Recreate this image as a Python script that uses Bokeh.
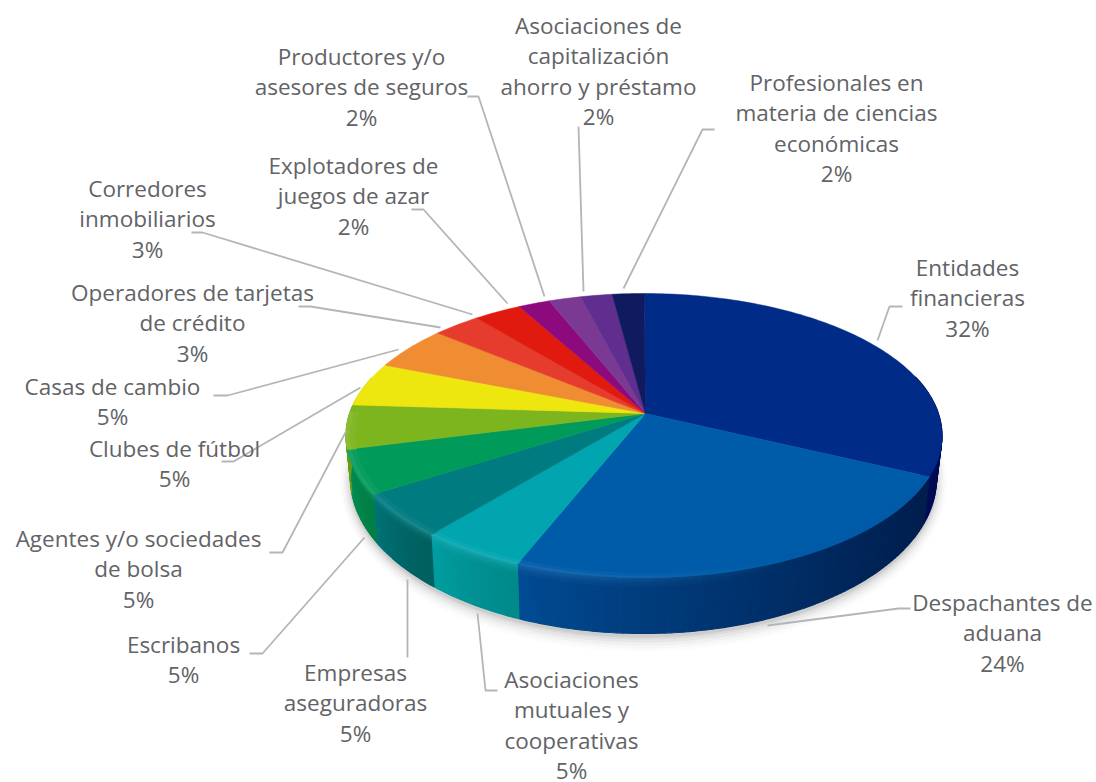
import numpy as np
from bokeh.plotting import figure
from bokeh.core.properties import value
from bokeh.embed import file_html
from bokeh.resources import INLINE

categories = ["Entidades financieras", "Despachantes de aduana", "Asociaciones mutuales y cooperativas",
              "Empresas aseguradoras", "Escribanos", "Agentes y/o sociedades de bolsa", "Clubes de fútbol",
              "Casas de cambio", "Operadores de tarjetas de crédito", "Corredores inmobiliarios",
              "Explotadores de juegos de azar", "Productores y/o asesores de seguros",
              "Asociaciones de capitalización ahorro y préstamo", "Profesionales en materia de ciencias económicas"]
shares = [32, 24, 5, 5, 5, 5, 5, 5, 3, 3, 2, 2, 2, 2]
label_lines = [["Entidades", "financieras"], ["Despachantes de", "aduana"],
               ["Asociaciones", "mutuales y", "cooperativas"], ["Empresas", "aseguradoras"], ["Escribanos"],
               ["Agentes y/o sociedades", "de bolsa"], ["Clubes de fútbol"], ["Casas de cambio"],
               ["Operadores de tarjetas", "de crédito"], ["Corredores", "inmobiliarios"],
               ["Explotadores de", "juegos de azar"], ["Productores y/o", "asesores de seguros"],
               ["Asociaciones de", "capitalización", "ahorro y préstamo"],
               ["Profesionales en", "materia de ciencias", "económicas"]]

top_colors = ["#002B87", "#005BA8", "#00A5B0", "#007B80", "#009A5A", "#7DB51E", "#EDE60F",
              "#F08C32", "#E63C2D", "#E01A0F", "#8C0A7D", "#7A3A94", "#5F2E8F", "#0F1A5F"]
side_right = ["#000845", "#001E4E", "#008A8C", "#00605F", "#007F45", "#6A9A18", "#C9C40D",
              "#CC772A", "#C33326", "#BE160D", "#77086A", "#68317E", "#51277A", "#0D1651"]
side_left = ["#000C55", "#004C94", "#009FA2", "#007377", "#009055", "#6A9A18", "#C9C40D",
             "#CC772A", "#C33326", "#BE160D", "#77086A", "#68317E", "#51277A", "#0D1651"]

# label layout: centre x, first line centre y
label_pos = [(967, 267), (1002, 602), (571, 679), (355, 672), (183, 644), (138, 538), (174, 448),
             (112, 386), (192, 292), (147, 188), (353, 165), (361, 56), (598, 25), (836, 82)]
LINE_H = 30.4
leaders = [
    [(877, 340), (889, 306), (902, 306)], [(767, 625), (898, 608), (910, 608)],
    [(477, 613), (485, 690), (497, 690)], [(407, 579), (407, 657)],
    [(364, 537), (262, 653), (249, 653)], [(346, 430), (282, 552), (269, 552)],
    [(360, 387), (233, 461), (221, 461)], [(398, 349), (227, 395), (213, 395)],
    [(440, 327), (310, 306), (298, 306)], [(472, 314), (202, 232), (191, 232)],
    [(507, 303), (423, 209), (411, 209)], [(544, 296), (478, 96), (467, 96)],
    [(583, 291), (578, 126)], [(623, 288), (702, 129), (714, 129)],
]

# pie geometry in page pixels
AX, AY = 645.0, 413.0            # projected centre of the disc
CX, CY, RX, RY = 643.5, 435.0, 298.0, 142.0   # rim of the top face
BCX, BCY, BRX, BRY = 643.0, 478.0, 293.0, 155.0  # rim of the bottom face
D = (CY - AY) / RY


def rim(theta):
    X, Y = np.sin(theta), np.cos(theta)
    k = 1 + D * Y
    return X * np.sqrt(1 - D * D) / k, -(Y + D) / k


def rgb(h):
    return np.array([int(h[i:i + 2], 16) for i in (1, 3, 5)], float)


def hexc(c):
    c = np.clip(np.round(c), 0, 255).astype(int)
    return "#%02x%02x%02x" % tuple(c)


W, H = 1096, 782
p = figure(width=W, height=H, x_range=(0, W), y_range=(H, 0), toolbar_location=None,
           output_backend="svg", min_border=0, outline_line_color=None, background_fill_color="white")
p.axis.visible = False
p.grid.visible = False

# soft shadow under the disc
t = np.linspace(0, 2 * np.pi, 200)
for g, a in [(15, .02), (12, .03), (9, .045), (6, .06), (3, .08), (1, .1)]:
    p.patch(BCX + (BRX + g * .7) * np.cos(t), BCY + 3 + (BRY + g) * np.sin(t),
            fill_color="#555555", fill_alpha=a, line_color=None)

fractions = np.cumsum([0] + shares) / sum(shares)
STEP = np.radians(1.0)

xs, ys, cols = [], [], []
bands = [(0, .035, .55), (.035, .075, .4), (.075, .12, .24), (.12, .18, .11), (.18, 1, 0)]
for i in range(len(shares)):
    a0, a1 = 2 * np.pi * fractions[i], 2 * np.pi * fractions[i + 1]
    n = max(2, int((a1 - a0) / STEP))
    ang = np.linspace(a0, a1, n + 1)
    lighter = rgb(top_colors[i]) * .85 + np.array([255, 255, 255]) * .15
    for j in range(n):
        u0, v0 = rim(ang[j])
        u1, v1 = rim(ang[j + 1])
        if max(v0, v1) < -0.4:
            continue
        xm = CX + RX * (u0 + u1) / 2
        f = (ang[j] - a0) / (a1 - a0)
        base = rgb(side_right[i]) + (rgb(side_left[i]) - rgb(side_right[i])) * f ** 1.4
        strength = np.clip((800 - xm) / 250, 0, 1)
        for b0, b1, w in bands:
            pts = [(u0, v0, b0), (u1, v1, b0), (u1, v1, b1), (u0, v0, b1)]
            qx, qy = [], []
            for u, v, b in pts:
                tx, ty = CX + RX * u, CY + RY * v
                bx, by = BCX + BRX * u, BCY + BRY * v
                qx.append(tx + (bx - tx) * b)
                qy.append(ty + (by - ty) * b)
            xs.append(qx)
            ys.append(qy)
            cols.append(hexc(base + (lighter - base) * w * strength))
p.patches(xs, ys, fill_color=cols, line_color=cols, line_width=1.1)

# top face
xs, ys, cols = [], [], []
for i in range(len(shares)):
    a0, a1 = 2 * np.pi * fractions[i], 2 * np.pi * fractions[i + 1]
    ang = np.linspace(a0, a1, max(3, int((a1 - a0) / STEP)))
    u, v = rim(ang)
    xs.append(np.r_[AX, CX + RX * u].tolist())
    ys.append(np.r_[AY, CY + RY * v].tolist())
    cols.append(top_colors[i])
p.patches(xs, ys, fill_color=cols, line_color=cols, line_width=0.5)

# bevel inside the rim of the top face
xs, ys, cols = [], [], []
for i in range(len(shares)):
    a0, a1 = 2 * np.pi * fractions[i], 2 * np.pi * fractions[i + 1]
    n = max(2, int((a1 - a0) / STEP))
    ang = np.linspace(a0, a1, n + 1)
    top = rgb(top_colors[i])
    for j in range(n):
        u0, v0 = rim(ang[j])
        u1, v1 = rim(ang[j + 1])
        if min(v0, v1) < -0.18 or (min(v0, v1) < 0.0 and (u0 + u1) / 2 > 0):
            continue
        xm = CX + RX * (u0 + u1) / 2
        strength = np.clip((800 - xm) / 250, 0, 1)
        for s0, s1, w in [(1.0, .985, .09), (.985, .97, .04)]:
            xs.append([CX + RX * u0 * s0, CX + RX * u1 * s0, CX + RX * u1 * s1, CX + RX * u0 * s1])
            ys.append([CY + RY * v0 * s0, CY + RY * v1 * s0, CY + RY * v1 * s1, CY + RY * v0 * s1])
            c = top + (np.array([255, 255, 255]) - top) * w * strength
            cols.append(hexc(c))
if xs:
    p.patches(xs, ys, fill_color=cols, line_color=cols, line_width=0.8)

# leader lines
for pts in leaders:
    p.line([q[0] for q in pts], [q[1] for q in pts], line_color="#B4B5B9", line_width=1.8)

# labels
for lines, share, (lx, ly) in zip(label_lines, shares, label_pos):
    for k, txt in enumerate(lines + [f"{share}%"]):
        p.text([lx], [ly + k * LINE_H], text=[txt], text_font=value("Open Sans"), text_font_size="22.5px",
               text_color="#626366", text_align="center", text_baseline="middle")

open("out.html", "w").write(file_html(p, INLINE))
